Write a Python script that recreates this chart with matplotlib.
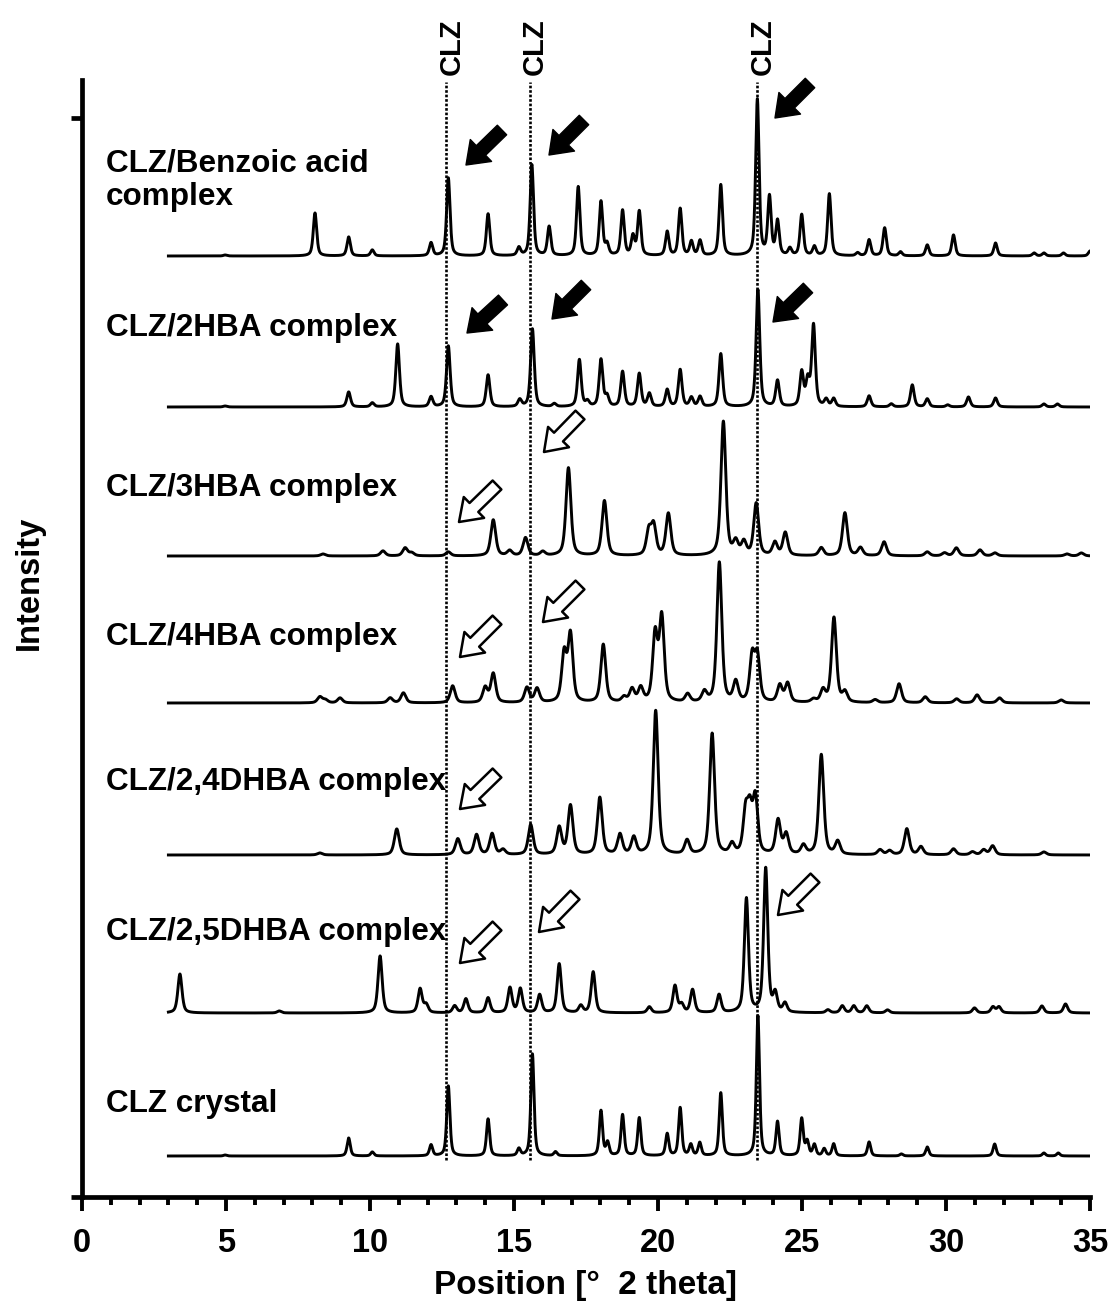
import numpy as np
import matplotlib
matplotlib.use("Agg")
import matplotlib.pyplot as plt
from matplotlib.ticker import MultipleLocator

plt.rcParams['font.family'] = ['Liberation Sans', 'DejaVu Sans']
plt.rcParams['font.weight'] = 'bold'

# ---------------- data (peak positions [deg 2theta] and heights [a.u.]) -------------
labels = ["CLZ/Benzoic acid\ncomplex", "CLZ/2HBA complex", "CLZ/3HBA complex",
          "CLZ/4HBA complex", "CLZ/2,4DHBA complex", "CLZ/2,5DHBA complex", "CLZ crystal"]

pos_benzoic = [4.97, 8.09, 9.26, 10.08, 12.12, 12.72, 14.10, 15.17, 15.62, 16.22, 17.23, 18.02,
               18.23, 18.77, 19.13, 19.35, 20.32, 20.77, 21.16, 21.46, 22.18, 23.45, 23.87, 24.15,
               24.58, 24.99, 25.43, 25.95, 26.93, 27.33, 27.87, 28.42, 29.35, 30.26, 31.72, 33.06,
               33.40, 34.08, 35.0]
int_benzoic = [1, 43, 19, 6, 13, 78, 42, 8, 91, 29, 69, 54, 11, 45, 19, 44, 24, 47, 14, 15, 71,
               156, 58, 34, 7, 41, 9, 62, 3, 16, 28, 4, 11, 21, 13, 3, 3, 3, 5]

pos_2hba = [4.97, 9.26, 10.08, 10.96, 12.12, 12.72, 14.10, 15.20, 15.64, 16.40, 17.27, 17.55,
            18.02, 18.23, 18.77, 19.35, 19.70, 20.32, 20.77, 21.16, 21.46, 22.18, 23.47, 24.15,
            24.99, 25.20, 25.40, 25.84, 26.10, 27.33, 28.10, 28.83, 29.35, 30.06, 30.78, 31.72,
            33.40, 33.87]
int_2hba = [1, 15, 4, 63, 10, 61, 32, 7, 78, 3, 47, 5, 47, 10, 35, 33, 13, 17, 37, 9, 10, 53,
            117, 26, 34, 25, 81, 7, 8, 11, 3, 22, 8, 2, 10, 9, 3, 3]

pos_3hba = [8.37, 10.45, 11.22, 11.45, 12.72, 14.28, 14.85, 15.40, 16.00, 16.89, 18.14, 19.68,
            19.85, 20.36, 22.27, 22.70, 22.98, 23.41, 24.06, 24.42, 25.67, 26.49, 27.03, 27.85,
            29.35, 29.95, 30.36, 31.18, 31.70, 34.20, 34.70]
int_3hba = [2, 5, 8, 3, 4, 36, 5, 18, 4, 88, 55, 24, 29, 42, 134, 13, 13, 52, 13, 23, 8, 43, 8,
            14, 4, 3, 8, 6, 3, 2, 3]

pos_4hba = [8.26, 8.45, 8.96, 10.70, 11.16, 12.87, 14.00, 14.28, 15.45, 15.80, 16.74, 16.96,
            18.10, 18.82, 19.10, 19.40, 19.90, 20.13, 21.03, 21.61, 22.13, 22.70, 23.27, 23.45,
            24.23, 24.50, 25.40, 25.73, 26.11, 26.49, 27.54, 28.37, 29.28, 30.37, 31.08, 31.86,
            34.00]
int_4hba = [6, 3, 5, 5, 10, 17, 15, 29, 15, 14, 48, 67, 58, 5, 13, 14, 67, 84, 8, 10, 140, 20,
            45, 45, 17, 19, 3, 12, 85, 10, 3, 19, 6, 4, 8, 5, 3]

pos_24dhba = [8.26, 10.93, 13.05, 13.70, 14.24, 14.62, 15.58, 16.57, 16.96, 17.98, 18.68, 19.16,
              19.92, 21.01, 21.88, 22.57, 23.04, 23.19, 23.38, 24.17, 24.45, 25.05, 25.67, 26.24,
              27.71, 28.04, 28.64, 29.13, 30.26, 30.92, 31.31, 31.62, 33.40]
int_24dhba = [2, 26, 16, 20, 21, 5, 30, 27, 49, 57, 20, 17, 144, 14, 121, 10, 40, 40, 55, 34, 20,
              9, 100, 13, 5, 4, 26, 8, 6, 3, 5, 9, 3]

pos_25dhba = [3.40, 6.85, 10.35, 11.74, 11.95, 12.94, 13.33, 14.10, 14.86, 15.22, 15.89, 16.57,
              17.32, 17.75, 19.70, 20.59, 20.82, 21.20, 22.12, 23.07, 23.74, 24.07, 24.41, 25.90,
              26.40, 26.80, 27.25, 27.97, 30.99, 31.63, 31.84, 33.33, 34.15]
int_25dhba = [39, 2, 57, 24, 8, 7, 14, 15, 25, 24, 18, 49, 7, 41, 6, 27, 8, 23, 18, 114, 144, 18,
              9, 3, 7, 7, 7, 3, 5, 6, 6, 7, 9]

pos_clz = [4.97, 9.26, 10.08, 12.12, 12.72, 14.10, 15.17, 15.64, 16.44, 18.02, 18.25, 18.77,
           19.35, 20.32, 20.77, 21.14, 21.45, 22.18, 23.47, 24.15, 24.99, 25.18, 25.43, 25.77,
           26.10, 27.33, 28.45, 29.35, 31.69, 33.40, 33.90]
int_clz = [1, 18, 4, 11, 70, 37, 7, 102, 4, 45, 13, 41, 38, 22, 48, 11, 13, 63, 140, 34, 37, 14,
           11, 7, 12, 14, 2, 9, 12, 3, 3]

clz_ref_peaks = [12.65, 15.55, 23.45]

# ---------------- layout / style ----------------
positions = [pos_benzoic, pos_2hba, pos_3hba, pos_4hba, pos_24dhba, pos_25dhba, pos_clz]
intensities = [int_benzoic, int_2hba, int_3hba, int_4hba, int_24dhba, int_25dhba, int_clz]
offsets = [941, 790, 641, 494, 342, 184, 41]
fwhms = [0.14, 0.15, 0.2, 0.2, 0.2, 0.17, 0.13]
label_y = [992, 861, 701, 552, 407, 257, 85]


def profile(x, pk, hh, w, eta=0.55):
    y = np.zeros_like(x)
    for p, h in zip(pk, hh):
        d = (x - p) / (w / 2.0)
        y += h * (eta / (1 + d ** 2) + (1 - eta) * np.exp(-np.log(2) * d ** 2))
    return y


W, H = 1113, 1306
fig = plt.figure(figsize=(W / 100, H / 100), dpi=100)
ax = fig.add_axes([82 / W, (H - 1197) / H, (1090 - 82) / W, (1197 - 80) / H])
ax.set_xlim(0, 35)
ax.set_ylim(0, 1117)

x = np.linspace(3.0, 35.0, 6401)
for pk, hh, off, w in zip(positions, intensities, offsets, fwhms):
    ax.plot(x, off + profile(x, pk, hh, w), color='black', lw=2.1, solid_joinstyle='round')

for lab, ly in zip(labels, label_y):
    ax.text(0.83, ly, lab, fontsize=22.7, fontweight='bold', ha='left', va='baseline',
            linespacing=1.15)

# CLZ reference lines and labels
for p in clz_ref_peaks:
    ax.plot([p, p], [37, 1115], color='black', lw=1.9, linestyle=(0, (1, 0.7)))
    ax.text(p + 0.18, 1122, "CLZ", rotation=90, fontsize=21, fontweight='bold',
            ha='center', va='bottom', clip_on=False)


# arrows (tail -> tip, in pixel coords of the original figure)
def px2data(px, py):
    return ((px - 82) / 28.8, 1197 - py)

filled = [((502, 130), (466, 165)), ((584, 120), (549, 155)), ((810, 83), (775, 118)),
          ((503, 300), (467, 333)), ((586, 285), (552, 319)), ((808, 288), (773, 322))]
hollow = [((497, 485), (459, 522)), ((580, 415), (544, 452)),
          ((497, 620), (460, 657)), ((580, 585), (543, 622)),
          ((497, 773), (460, 809)),
          ((497, 926), (460, 963)), ((575, 895), (539, 932)), ((815, 878), (778, 915))]
for (tail, tip) in filled:
    ax.annotate('', xy=px2data(*tip), xytext=px2data(*tail),
                arrowprops=dict(arrowstyle='simple,head_length=0.75,head_width=1.1,tail_width=0.48',
                                fc='black', ec='black', lw=1, mutation_scale=20,
                                shrinkA=0, shrinkB=0), annotation_clip=False)
for (tail, tip) in hollow:
    ax.annotate('', xy=px2data(*tip), xytext=px2data(*tail),
                arrowprops=dict(arrowstyle='simple,head_length=0.75,head_width=1.05,tail_width=0.45',
                                fc='white', ec='black', lw=1.8, mutation_scale=20,
                                shrinkA=0, shrinkB=0), annotation_clip=False)

# axes styling
for s in ['top', 'right']:
    ax.spines[s].set_visible(False)
for s in ['left', 'bottom']:
    ax.spines[s].set_linewidth(3.4)
ax.xaxis.set_major_locator(MultipleLocator(5))
ax.xaxis.set_minor_locator(MultipleLocator(1))
ax.tick_params(axis='x', which='major', direction='out', length=10, width=2.8,
               labelsize=23.5, pad=12)
ax.tick_params(axis='x', which='minor', direction='out', length=6, width=2.8)
ax.set_yticks([0, 1079])
ax.set_yticklabels([])
ax.tick_params(axis='y', which='major', direction='out', length=8, width=3.4)
for t in ax.get_xticklabels():
    t.set_fontweight('bold')
ax.set_xlabel("Position [°  2 theta]", fontsize=24, fontweight='bold', labelpad=8)
fig.text(29 / W, 1 - 583 / H, "Intensity", rotation=90, fontsize=23.5, fontweight='bold',
         ha='center', va='center')

fig.savefig("out.png", dpi=100)
